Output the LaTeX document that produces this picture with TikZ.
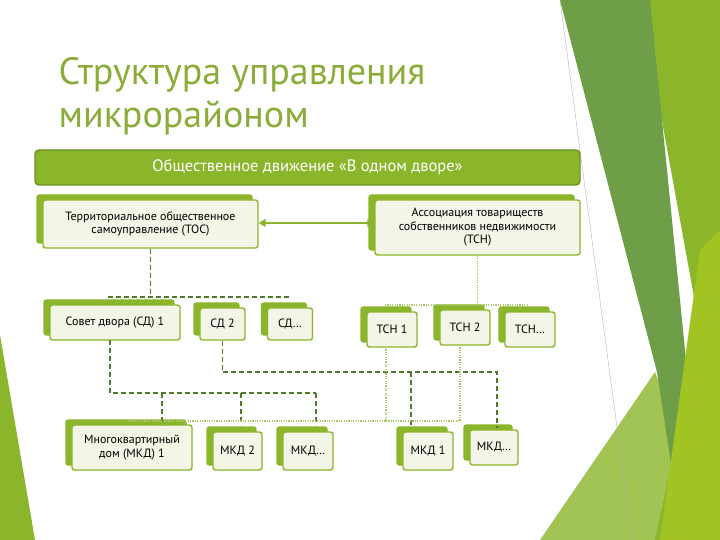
\documentclass[tikz,border=0pt]{standalone}
\usepackage{fontspec}
\setmainfont{PT Sans}
\usetikzlibrary{shadows,arrows.meta}
\definecolor{gA}{HTML}{8BB52A}
\definecolor{gB}{HTML}{6A9020}
\definecolor{gC}{HTML}{F3F5E6}
\definecolor{gT}{HTML}{8AAD3A}
\definecolor{gD}{HTML}{4E7A2A}
\definecolor{gL}{HTML}{A9C66A}
\definecolor{gM}{HTML}{6E9E48}
\tikzset{
 box/.style={draw=gA,line width=1.4pt,fill=gC,rounded corners=2.5pt,inner sep=2pt,align=center,font=\fontsize{12}{13.5}\selectfont,
   copy shadow={shadow xshift=-6pt,shadow yshift=5pt,fill=gA,draw=gA}},
 dk/.style={draw=gD,line width=1.3pt,dash pattern=on 5pt off 3pt},
 dt/.style={draw=gL,line width=1.3pt,dash pattern=on 1.2pt off 1.2pt},
}
\begin{document}
\begin{tikzpicture}[x=1pt,y=-1pt]
\useasboundingbox (0,0) rectangle (720,540);
\fill[white] (0,0) rectangle (720,540);
% decoration
\fill[gL!40] (600,540) -- (660,400) -- (690,540) -- cycle;
\fill[gA!80] (540,540) -- (655,372) -- (720,540) -- cycle;
\fill[gA] (640,0) -- (720,0) -- (720,540) -- (655,540) -- (700,330) -- cycle;
\fill[gM] (560,0) -- (650,0) -- (692,420) -- (672,470) -- (657,372) -- cycle;
\fill[gA!80!yellow] (700,250) -- (720,230) -- (720,540) -- (660,540) -- cycle;
\fill[gA] (0,335) -- (35,540) -- (0,540) -- cycle;
\draw[gray!60,line width=0.4pt] (560,0) -- (632,540);
% title
\node[anchor=base west,text=gT,font=\fontsize{38}{42}\selectfont] (title) at (55,85) {Структура управления};
\node[anchor=base west,text=gT,font=\fontsize{38}{42}\selectfont] (title2) at (55,128) {микрорайоном};
% banner
\node[draw=gB,line width=1.4pt,fill=gA,rounded corners=4pt,minimum width=545pt,minimum height=35pt,text=white,font=\fontsize{16.5}{18}\selectfont] (ban) at (307.5,167.5) {Общественное движение «В одном дворе»};
% boxes
\node[box,minimum width=215pt,minimum height=48pt] (tos) at (150.5,224) {Территориальное общественное\\самоуправление (ТОС)};
\node[box,minimum width=205pt,minimum height=55pt] (as) at (477.5,227.5) {Ассоциация товариществ\\собственников недвижимости\\(ТСН)};
\node[box,minimum width=130pt,minimum height=35pt] (sd1) at (115,322.5) {Совет двора (СД) 1};
\node[box,minimum width=45pt,minimum height=32pt] (sd2) at (222.5,324) {СД 2};
\node[box,minimum width=45pt,minimum height=32pt] (sd3) at (290,324) {СД…};
\node[box,minimum width=50pt,minimum height=35pt] (t1) at (392,329.5) {ТСН 1};
\node[box,minimum width=50pt,minimum height=35pt] (t2) at (465,327.5) {ТСН 2};
\node[box,minimum width=50pt,minimum height=35pt] (t3) at (530,329.5) {ТСН…};
\node[box,minimum width=120pt,minimum height=45pt] (m1) at (132,447.5) {Многоквартирный\\дом (МКД) 1};
\node[box,minimum width=49pt,minimum height=38pt] (m2) at (237.5,451) {МКД 2};
\node[box,minimum width=50pt,minimum height=38pt] (m3) at (308,451) {МКД…};
\node[box,minimum width=50pt,minimum height=38pt] (m4) at (428,451) {МКД 1};
\node[box,minimum width=48pt,minimum height=35pt] (m5) at (494,447.5) {МКД…};
% arrow
\draw[gA,line width=2.5pt,{Triangle[length=7pt,width=8pt]}-{Triangle[length=7pt,width=8pt]}] (tos.east|-0,223) -- (as.west|-0,223);
% dashed dark
\draw[dk] (tos.south) -- (tos.south|-0,297);
\draw[dk] (108,297) -- (290,297);
\draw[dk] (110,340) -- (110,393) -- (316,393);
\draw[dk] (162,393) -- (162,425);
\draw[dk] (241,393) -- (241,425);
\draw[dk] (316,393) -- (316,425);
\draw[dk] (sd2.south) -- (sd2.south|-0,372) -- (497,372) -- (497,428);
\draw[dk] (411,372) -- (411,428);
% dotted light
\draw[dt] (as.south) -- (as.south|-0,305);
\draw[dt] (385,305) -- (527,305);
\draw[dt] (386,347) -- (386,421) -- (127,421);
\draw[dt] (460,345) -- (460,421) -- (386,421);
\end{tikzpicture}
\end{document}
